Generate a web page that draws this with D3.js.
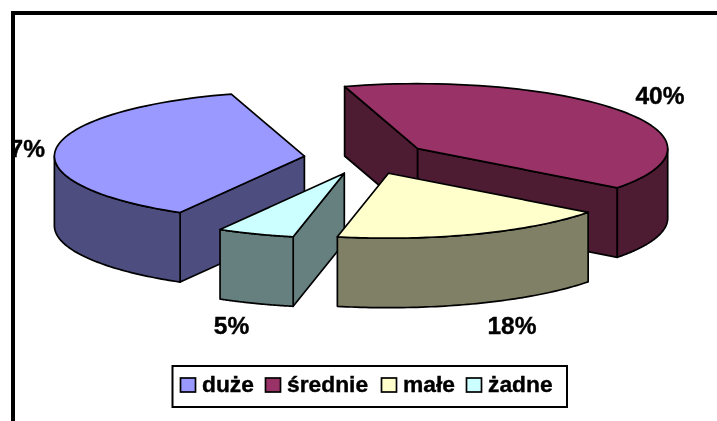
<!DOCTYPE html>
<html><head><meta charset="utf-8">
<script src="https://cdn.jsdelivr.net/npm/d3@7/dist/d3.min.js"></script>
<style>html,body{margin:0;padding:0;background:#fff;overflow:hidden}svg{display:block}text{font-family:"Liberation Sans",Arial,sans-serif;font-weight:bold;fill:#000;stroke:#000;stroke-width:.4}</style>
</head><body><svg width="717" height="421"></svg>
<script>
const categories = ["duże", "średnie", "małe", "żadne"];
const values = [37, 40, 18, 5];
const topColors = ["#9999FF", "#993366", "#FFFFCC", "#CCFFFF"];
const sideColors = ["#4D4D80", "#4D1A33", "#808066", "#668080"];
const labels = ["37%", "40%", "18%", "5%"];

const W = 717, H = 421;
const cx = 366.5, cy = 158, rx = 250, ry = 65, depth = 69.5, explode = 62.5;
const startDeg = 209.8;
const paintOrder = [0, 1, 3, 2];
const labelPos = [[20.5, 157], [660, 104], [512, 334], [231.5, 334]];
const legendItemX = [180, 265, 381, 466];

const svg = d3.select("svg");
const x = d3.scaleLinear().domain([-1, 1]).range([cx - rx, cx + rx]);
const y = d3.scaleLinear().domain([-1, 1]).range([cy - ry, cy + ry]);

const arcs = d3.pie().sort(null).value(d => d)
  .startAngle(startDeg * Math.PI / 180)
  .endAngle(startDeg * Math.PI / 180 + 2 * Math.PI)(values);

const line = d3.line();
const pt = (a, ox, oy, dz = 0) => [x(Math.sin(a) + ox), y(-Math.cos(a) + oy) + dz];
function rim(a0, a1, ox, oy, dz) {
  return d3.range(0, 61).map(i => pt(a0 + (a1 - a0) * i / 60, ox, oy, dz));
}

const defs = svg.append("defs");
defs.append("clipPath").attr("id", "inner")
  .append("rect").attr("x", 15).attr("y", 15).attr("width", W - 15).attr("height", H - 15);
defs.append("filter").attr("id", "soft").attr("x", "-5%").attr("y", "-5%").attr("width", "110%").attr("height", "110%")
  .append("feGaussianBlur").attr("stdDeviation", 0.35);

const content = svg.append("g").attr("filter", "url(#soft)");
const plot = content.append("g");
paintOrder.forEach(i => {
  const d = arcs[i];
  const mid = (d.startAngle + d.endAngle) / 2;
  const ox = Math.sin(mid) * explode / rx, oy = -Math.cos(mid) * explode / rx;
  const c = [x(ox), y(oy)];
  const g = plot.append("g").attr("stroke", "#000").attr("stroke-width", 1.7).attr("stroke-linejoin", "round");
  const wall = a => {
    const p = pt(a, ox, oy);
    g.append("path").attr("fill", sideColors[i])
      .attr("d", line([c, p, [p[0], p[1] + depth], [c[0], c[1] + depth]]) + "Z");
  };
  if (Math.sin(d.startAngle) < 0) wall(d.startAngle);
  if (Math.sin(d.endAngle) > 0) wall(d.endAngle);
  // front-facing part of the outer rim: angles between 90 and 270 degrees, modulo a full turn
  for (const k of [0, 1]) {
    const lo = Math.PI / 2 + k * 2 * Math.PI, hi = 1.5 * Math.PI + k * 2 * Math.PI;
    const a0 = Math.max(d.startAngle, lo), a1 = Math.min(d.endAngle, hi);
    if (a1 > a0) {
      const upper = rim(a0, a1, ox, oy, 0), lower = rim(a1, a0, ox, oy, depth);
      g.append("path").attr("fill", sideColors[i]).attr("d", line(upper.concat(lower)) + "Z");
    }
  }
  g.append("path").attr("fill", topColors[i])
    .attr("d", line([c].concat(rim(d.startAngle, d.endAngle, ox, oy, 0))) + "Z");
});

content.append("g").attr("clip-path", "url(#inner)").selectAll("text").data(labels).join("text")
  .attr("x", (d, i) => labelPos[i][0]).attr("y", (d, i) => labelPos[i][1])
  .attr("text-anchor", "middle").attr("font-size", 24.5).text(d => d);

// legend
content.append("rect").attr("x", 172.5).attr("y", 366).attr("width", 394.5).attr("height", 41)
  .attr("fill", "#fff").attr("stroke", "#000").attr("stroke-width", 2);
const leg = content.append("g").selectAll("g").data(categories).join("g")
  .attr("transform", (d, i) => `translate(${legendItemX[i]},378)`);
leg.append("rect").attr("width", 15).attr("height", 14).attr("x", .5).attr("fill", (d, i) => topColors[i])
  .attr("stroke", "#000").attr("stroke-width", 1.7);
leg.append("text").attr("x", 22).attr("y", 14).attr("font-size", 22.8).text(d => d);

// frame
svg.append("rect").attr("x", 11).attr("y", 11).attr("width", W).attr("height", 4).attr("fill", "#000");
svg.append("rect").attr("x", 11).attr("y", 11).attr("width", 4).attr("height", H).attr("fill", "#000");
</script></body></html>
